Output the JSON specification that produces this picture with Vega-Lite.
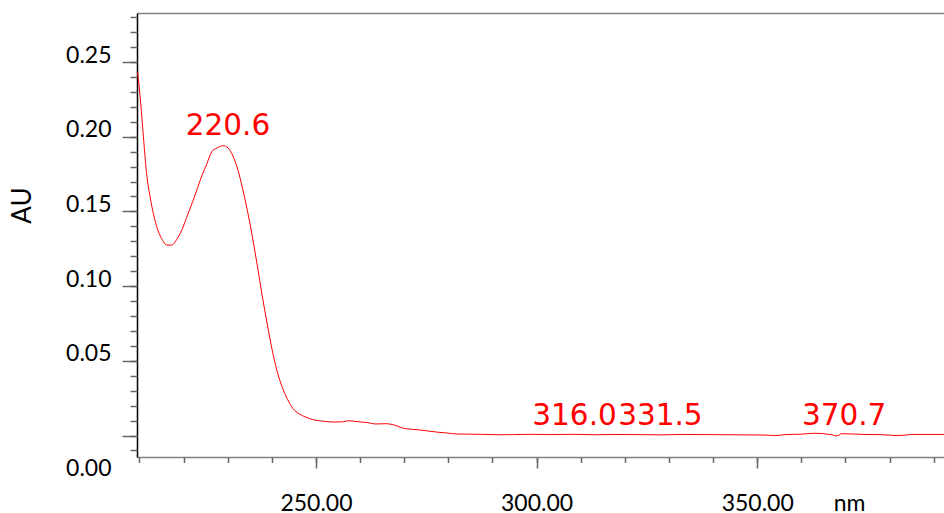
{
  "$schema": "https://vega.github.io/schema/vega-lite/v6.json",
  "width": 808,
  "height": 444,
  "autosize": "none",
  "padding": {"left": 137, "top": 13, "right": 0, "bottom": 56},
  "background": "white",
  "config": {"view": {"stroke": null}, "font": "Lato"},
  "resolve": {"axis": {"x": "independent", "y": "independent"}},
  "layer": [
    {
      "data": {"values": [
        {"nm": 209.6, "au": 0.243},
        {"nm": 210.3, "au": 0.222},
        {"nm": 210.9, "au": 0.200},
        {"nm": 211.6, "au": 0.176},
        {"nm": 212.4, "au": 0.160},
        {"nm": 213.2, "au": 0.148},
        {"nm": 214.0, "au": 0.139},
        {"nm": 215.0, "au": 0.132},
        {"nm": 216.2, "au": 0.1275},
        {"nm": 217.3, "au": 0.1275},
        {"nm": 218.4, "au": 0.131},
        {"nm": 219.6, "au": 0.1375},
        {"nm": 220.7, "au": 0.146},
        {"nm": 222.0, "au": 0.156},
        {"nm": 223.2, "au": 0.166},
        {"nm": 224.3, "au": 0.175},
        {"nm": 225.3, "au": 0.182},
        {"nm": 226.4, "au": 0.190},
        {"nm": 227.6, "au": 0.1925},
        {"nm": 229.0, "au": 0.194},
        {"nm": 230.1, "au": 0.1925},
        {"nm": 231.2, "au": 0.187},
        {"nm": 232.3, "au": 0.178},
        {"nm": 233.4, "au": 0.165},
        {"nm": 234.5, "au": 0.150},
        {"nm": 235.6, "au": 0.133},
        {"nm": 236.7, "au": 0.114},
        {"nm": 237.8, "au": 0.094},
        {"nm": 239.0, "au": 0.074},
        {"nm": 240.1, "au": 0.057},
        {"nm": 241.2, "au": 0.043},
        {"nm": 242.4, "au": 0.032},
        {"nm": 243.6, "au": 0.024},
        {"nm": 244.8, "au": 0.018},
        {"nm": 246.2, "au": 0.0145},
        {"nm": 247.8, "au": 0.0122},
        {"nm": 249.5, "au": 0.0105},
        {"nm": 251.0, "au": 0.0098},
        {"nm": 253.9, "au": 0.0090},
        {"nm": 256.2, "au": 0.0092},
        {"nm": 257.3, "au": 0.0099},
        {"nm": 259.6, "au": 0.0092},
        {"nm": 261.8, "au": 0.0086},
        {"nm": 263.4, "au": 0.0077},
        {"nm": 266.0, "au": 0.0079},
        {"nm": 267.5, "au": 0.0072},
        {"nm": 270.2, "au": 0.0046},
        {"nm": 273.6, "au": 0.0037},
        {"nm": 277.3, "au": 0.0023},
        {"nm": 279.6, "au": 0.0017},
        {"nm": 281.9, "au": 0.0010},
        {"nm": 287.2, "au": 0.0008},
        {"nm": 291.7, "au": 0.0005},
        {"nm": 295.0, "au": 0.0006},
        {"nm": 298.5, "au": 0.0008},
        {"nm": 303.0, "au": 0.0006},
        {"nm": 308.0, "au": 0.0008},
        {"nm": 313.0, "au": 0.0005},
        {"nm": 318.0, "au": 0.0007},
        {"nm": 323.0, "au": 0.0006},
        {"nm": 328.0, "au": 0.0004},
        {"nm": 333.0, "au": 0.0007},
        {"nm": 338.0, "au": 0.0006},
        {"nm": 344.2, "au": 0.0005},
        {"nm": 351.8, "au": 0.0003},
        {"nm": 354.1, "au": -0.0001},
        {"nm": 356.3, "au": 0.0006},
        {"nm": 360.0, "au": 0.0009},
        {"nm": 363.1, "au": 0.0015},
        {"nm": 366.9, "au": 0.0005},
        {"nm": 368.0, "au": -0.0003},
        {"nm": 369.2, "au": 0.0012},
        {"nm": 374.4, "au": 0.0007},
        {"nm": 378.0, "au": 0.0006},
        {"nm": 382.0, "au": -0.0001},
        {"nm": 385.0, "au": 0.0007},
        {"nm": 392.5, "au": 0.0007}
      ]},
      "mark": {"type": "line", "color": "#ff0000", "strokeWidth": 1, "interpolate": "monotone"},
      "encoding": {
        "x": {
          "field": "nm", "type": "quantitative",
          "scale": {"domain": [209.45, 392.55], "nice": false, "zero": false},
          "axis": {
            "orient": "bottom",
            "values": [250, 300, 350],
            "title": "nm", "titleX": 712, "titleY": 53, "titleAlign": "center", "titleBaseline": "alphabetic",
            "titleFont": "Lato", "titleFontSize": 23, "titleFontWeight": "normal", "titleColor": "#000000",
            "format": ".2f",
            "labelFont": "Lato", "labelFontSize": 23, "labelColor": "#000000", "labelBaseline": "alphabetic",
            "labelPadding": 42, "labelOverlap": false, "labelFlush": false,
            "tickSize": 11, "tickColor": "#666666", "tickWidth": 1.5,
            "domainColor": "#808080", "domainWidth": 1.5, "grid": false
          }
        },
        "y": {
          "field": "au", "type": "quantitative",
          "scale": {"domain": [-0.01439, 0.2828], "nice": false, "zero": false},
          "axis": {
            "orient": "left",
            "values": [0.05, 0.1, 0.15, 0.2, 0.25],
            "title": "AU", "titleX": -115, "titleY": 192, "titleAngle": -90, "titleAlign": "center", "titleBaseline": "middle",
            "titleFont": "Lato", "titleFontSize": 26, "titleFontWeight": "normal", "titleColor": "#000000",
            "format": ".2f",
            "labelFont": "Lato", "labelFontSize": 23, "labelColor": "#000000", "labelBaseline": "alphabetic",
            "labelAlign": "right", "labelPadding": 11, "labelOverlap": false, "labelFlush": false,
            "tickSize": 15, "tickColor": "#666666", "tickWidth": 1.5,
            "domainColor": "#000000", "domainWidth": 1.5, "grid": false
          }
        }
      }
    },
    {
      "data": {"values": [
        {"nm": 230.06, "au": 0.2011, "label": "220.6"}
      ]},
      "mark": {"type": "text", "font": "DejaVu Sans", "fontSize": 29.5, "color": "#ff0000", "align": "center", "baseline": "alphabetic"},
      "encoding": {
        "x": {"field": "nm", "type": "quantitative", "axis": {
          "orient": "bottom",
          "values": [210, 220, 230, 240, 250, 260, 270, 280, 290, 300, 310, 320, 330, 340, 350, 360, 370, 380, 390],
          "title": null, "labels": false, "domain": false, "grid": false,
          "tickSize": 5.5, "tickColor": "#666666", "tickWidth": 1.5
        }},
        "y": {"field": "au", "type": "quantitative", "axis": {
          "orient": "left",
          "values": [-0.01, 0, 0.01, 0.02, 0.03, 0.04, 0.05, 0.06, 0.07, 0.08, 0.09, 0.1, 0.11, 0.12, 0.13, 0.14, 0.15, 0.16, 0.17, 0.18, 0.19, 0.2, 0.21, 0.22, 0.23, 0.24, 0.25, 0.26, 0.27, 0.28],
          "title": null, "labels": false, "domain": false, "grid": false,
          "tickSize": 7, "tickColor": "#666666", "tickWidth": 1.5
        }},
        "text": {"field": "label"}
      }
    },
    {
      "data": {"values": [
        {"nm": 308.6, "au": 0.00703, "label": "316.0"},
        {"nm": 328.05, "au": 0.00703, "label": "331.5"},
        {"nm": 369.69, "au": 0.00703, "label": "370.7"}
      ]},
      "mark": {"type": "text", "font": "DejaVu Sans", "fontSize": 29.5, "color": "#ff0000", "align": "center", "baseline": "alphabetic"},
      "encoding": {
        "x": {"field": "nm", "type": "quantitative", "axis": {
          "orient": "top", "title": null, "labels": false, "ticks": false, "grid": false,
          "domain": true, "domainColor": "#808080", "domainWidth": 1.5
        }},
        "y": {"field": "au", "type": "quantitative", "axis": {
          "orient": "left",
          "values": [0],
          "title": null, "domain": false, "grid": false,
          "format": ".2f",
          "labelFont": "Lato", "labelFontSize": 23, "labelColor": "#000000", "labelBaseline": "alphabetic",
          "labelAlign": "right", "labelPadding": 11, "labelOffset": 39.5, "labelFlush": false, "labelOverlap": false,
          "tickSize": 15, "tickColor": "#666666", "tickWidth": 1.5
        }},
        "text": {"field": "label"}
      }
    }
  ]
}
